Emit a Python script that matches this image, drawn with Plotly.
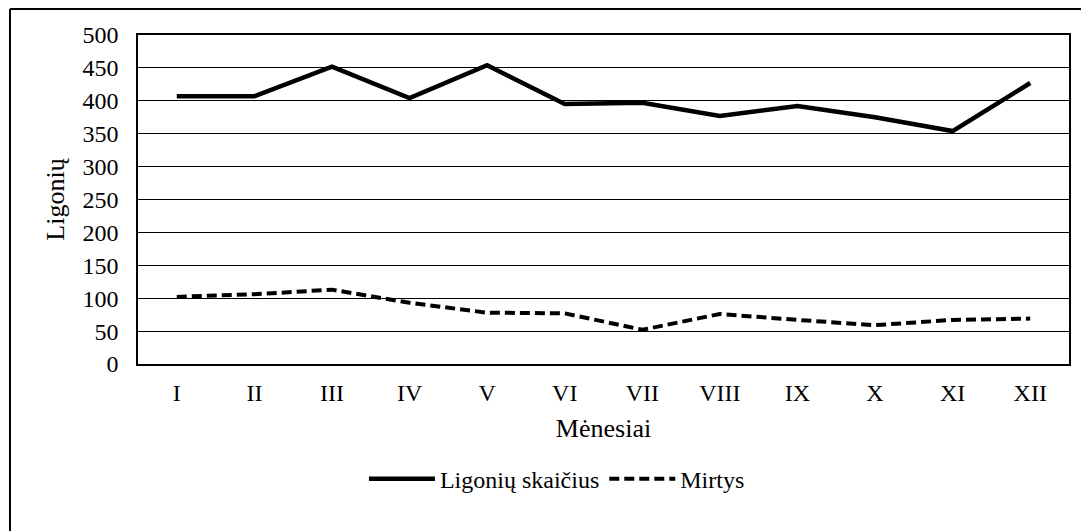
import plotly.graph_objects as go

# Monthly data (Roman numeral months)
months = ["I", "II", "III", "IV", "V", "VI", "VII", "VIII", "IX", "X", "XI", "XII"]
patients = [407, 407, 452, 404, 454, 395, 397, 377, 392, 375, 354, 427]
deaths = [102, 106, 113, 93, 78, 77, 52, 76, 67, 59, 67, 69]
y_ticks = [0, 50, 100, 150, 200, 250, 300, 350, 400, 450, 500]

FONT = "Liberation Serif"

fig = go.Figure()

fig.add_trace(go.Scatter(
    x=months,
    y=patients,
    mode="lines",
    name="Ligonių skaičius",
    line=dict(color="black", width=4.5)
))

fig.add_trace(go.Scatter(
    x=months,
    y=deaths,
    mode="lines",
    name="Mirtys",
    line=dict(color="black", width=4, dash="10px,5px")
))

# Outer frame (only left and top edges are visible in the reference)
fig.add_shape(type="line", xref="paper", yref="paper",
              x0=-0.1375, x1=1.1, y0=1.079, y1=1.079,
              line=dict(color="black", width=2))
fig.add_shape(type="line", xref="paper", yref="paper",
              x0=-0.1375, x1=-0.1375, y0=1.079, y1=-0.6,
              line=dict(color="black", width=2))

fig.update_layout(
    width=1081,
    height=523,
    margin=dict(l=130, r=20, t=27, b=167),
    paper_bgcolor="white",
    plot_bgcolor="white",
    font=dict(family=FONT, size=24, color="black"),
    showlegend=True,
    legend=dict(
        orientation="h",
        x=0.45, xanchor="center",
        y=-0.35, yanchor="middle",
        itemwidth=66,
        font=dict(family=FONT, size=24, color="black"),
        bgcolor="rgba(0,0,0,0)"
    ),
    xaxis=dict(
        type="category",
        range=[-0.5, 11.5],
        title=dict(text="Mėnesiai", font=dict(family=FONT, size=26, color="black"), standoff=14),
        showgrid=False,
        showline=True, linecolor="black", linewidth=1.5, mirror=True,
        ticks="", ticklabelstandoff=6,
        automargin=False
    ),
    yaxis=dict(
        title=dict(text="Ligonių", font=dict(family=FONT, size=26, color="black"), standoff=10),
        range=[0, 500],
        tickvals=y_ticks,
        showgrid=True, gridcolor="black", gridwidth=1,
        showline=True, linecolor="black", linewidth=1.5, mirror=True,
        zeroline=False,
        ticks="", ticklabelstandoff=13,
        automargin=False
    )
)

fig.write_html("out.html")
